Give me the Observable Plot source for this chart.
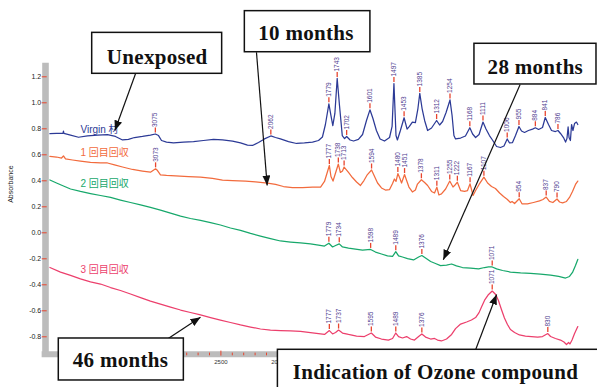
<!DOCTYPE html>
<html>
<head>
<meta charset="utf-8">
<script src="https://cdn.jsdelivr.net/npm/d3@7"></script>
<script src="https://cdn.jsdelivr.net/npm/@observablehq/plot@0.6"></script>
<style>
  body { margin: 0; background: #fff; }
  #chart svg { display: block; }
</style>
</head>
<body>
<div id="chart"></div>
<script>
// Infrared absorbance spectra: unexposed sheet and three recovered samples.
// Each point is [wavenumber (cm-1), absorbance].
const seriesNames = ["Virgin 材", "1 回目回収", "2 回目回収", "3 回目回収"];

const virgin = [
  [4000,0.762],[3942,0.764],[3885,0.765],[3881,0.782],[3877,0.765],[3819,0.752],[3749,0.735],
  [3670,0.745],[3582,0.752],[3495,0.756],[3425,0.741],[3363,0.714],[3311,0.718],[3258,0.733],
  [3188,0.741],[3118,0.752],[3075,0.760],[3047,0.748],[3021,0.710],[2977,0.698],[2916,0.691],
  [2828,0.698],[2740,0.702],[2653,0.710],[2565,0.718],[2486,0.714],[2398,0.706],[2328,0.691],
  [2267,0.675],[2223,0.672],[2170,0.695],[2118,0.722],[2062,0.745],[2021,0.733],[1989,0.722],
  [1954,0.702],[1919,0.687],[1885,0.691],[1850,0.698],[1824,0.710],[1807,0.737],[1794,0.833],
  [1779,0.992],[1770,0.902],[1762,0.825],[1753,0.918],[1743,1.187],[1733,0.979],[1721,0.748],
  [1711,0.725],[1702,0.741],[1687,0.714],[1672,0.706],[1651,0.718],[1633,0.756],[1616,0.864],
  [1601,0.946],[1588,0.879],[1573,0.787],[1557,0.722],[1538,0.706],[1516,0.733],[1505,0.818],
  [1497,1.148],[1488,0.748],[1482,0.714],[1469,0.787],[1453,0.885],[1440,0.798],[1430,0.818],
  [1417,0.852],[1404,0.848],[1393,0.956],[1385,1.072],[1375,0.956],[1364,0.864],[1351,0.787],
  [1334,0.806],[1312,0.864],[1299,0.829],[1286,0.856],[1271,0.925],[1254,1.022],[1245,0.902],
  [1237,0.748],[1230,0.722],[1208,0.729],[1187,0.745],[1168,0.808],[1156,0.760],[1143,0.733],
  [1128,0.756],[1111,0.852],[1098,0.798],[1083,0.748],[1070,0.714],[1052,0.664],[1035,0.656],
  [1020,0.668],[1006,0.722],[996,0.691],[983,0.694],[970,0.748],[955,0.818],[944,0.783],
  [931,0.772],[914,0.787],[896,0.798],[884,0.808],[870,0.795],[853,0.810],[841,0.887],
  [827,0.833],[814,0.787],[797,0.779],[786,0.787],[775,0.764],[762,0.733],[753,0.698],
  [747,0.725],[742,0.814],[738,0.733],[732,0.710],[727,0.833],[721,0.787],[714,0.841],
  [706,0.852],[700,0.833]
];

const recovery1 = [
  [4000,0.587],[3942,0.583],[3898,0.575],[3881,0.591],[3863,0.568],[3802,0.560],[3732,0.552],
  [3644,0.541],[3556,0.537],[3495,0.537],[3433,0.522],[3363,0.506],[3275,0.487],[3188,0.475],
  [3118,0.466],[3073,0.492],[3056,0.479],[3030,0.445],[2977,0.441],[2898,0.437],[2784,0.433],
  [2679,0.429],[2574,0.418],[2486,0.406],[2398,0.402],[2284,0.398],[2196,0.391],[2091,0.382],
  [2021,0.372],[1976,0.356],[1937,0.348],[1893,0.348],[1850,0.351],[1815,0.352],[1798,0.395],
  [1777,0.518],[1770,0.433],[1761,0.398],[1738,0.529],[1729,0.464],[1720,0.475],[1713,0.506],
  [1694,0.464],[1677,0.425],[1659,0.391],[1642,0.364],[1627,0.402],[1612,0.448],[1594,0.483],
  [1581,0.433],[1568,0.383],[1551,0.345],[1534,0.329],[1516,0.333],[1503,0.379],[1495,0.414],
  [1488,0.395],[1480,0.456],[1471,0.418],[1464,0.383],[1451,0.448],[1442,0.402],[1432,0.352],
  [1417,0.314],[1404,0.329],[1395,0.375],[1378,0.408],[1364,0.387],[1351,0.364],[1334,0.318],
  [1321,0.306],[1311,0.351],[1302,0.291],[1291,0.299],[1273,0.337],[1255,0.398],[1241,0.352],
  [1232,0.368],[1222,0.389],[1208,0.325],[1191,0.318],[1178,0.325],[1167,0.377],[1154,0.287],
  [1143,0.325],[1128,0.372],[1107,0.428],[1091,0.383],[1074,0.356],[1057,0.341],[1039,0.306],
  [1022,0.279],[1005,0.256],[992,0.233],[985,0.241],[974,0.225],[954,0.262],[942,0.223],
  [918,0.222],[892,0.233],[866,0.245],[851,0.256],[837,0.275],[823,0.241],[808,0.233],
  [790,0.260],[779,0.237],[766,0.230],[749,0.241],[736,0.272],[723,0.318],[710,0.372],
  [700,0.398]
];

const recovery2 = [
  [4000,0.406],[3942,0.383],[3881,0.360],[3819,0.337],[3732,0.318],[3644,0.302],[3556,0.287],
  [3468,0.272],[3381,0.252],[3293,0.233],[3205,0.214],[3118,0.195],[3030,0.175],[2942,0.152],
  [2854,0.129],[2767,0.110],[2679,0.095],[2591,0.079],[2504,0.060],[2416,0.037],[2328,0.018],
  [2240,-0.005],[2153,-0.025],[2065,-0.044],[1989,-0.063],[1945,-0.071],[1902,-0.078],
  [1859,-0.086],[1824,-0.094],[1798,-0.102],[1779,-0.080],[1763,-0.109],[1750,-0.098],
  [1734,-0.085],[1720,-0.109],[1694,-0.117],[1664,-0.125],[1633,-0.133],[1598,-0.128],
  [1577,-0.148],[1551,-0.163],[1525,-0.178],[1503,-0.182],[1489,-0.145],[1477,-0.178],
  [1460,-0.186],[1438,-0.198],[1412,-0.209],[1390,-0.186],[1376,-0.175],[1360,-0.194],
  [1338,-0.221],[1317,-0.236],[1295,-0.252],[1269,-0.248],[1247,-0.240],[1226,-0.255],
  [1200,-0.267],[1165,-0.271],[1130,-0.278],[1104,-0.267],[1087,-0.263],[1071,-0.263],
  [1052,-0.278],[1026,-0.290],[992,-0.302],[948,-0.309],[905,-0.313],[862,-0.317],
  [818,-0.325],[783,-0.336],[753,-0.348],[736,-0.336],[723,-0.305],[710,-0.252],[700,-0.205]
];

const recovery3 = [
  [4000,-0.267],[3907,-0.302],[3819,-0.328],[3732,-0.355],[3644,-0.378],[3556,-0.394],
  [3468,-0.421],[3381,-0.444],[3293,-0.471],[3205,-0.498],[3118,-0.525],[3030,-0.548],
  [2942,-0.571],[2854,-0.594],[2767,-0.613],[2679,-0.632],[2591,-0.652],[2504,-0.671],
  [2416,-0.690],[2328,-0.709],[2240,-0.725],[2153,-0.740],[2065,-0.748],[1989,-0.752],
  [1945,-0.755],[1902,-0.759],[1859,-0.767],[1824,-0.775],[1798,-0.782],[1777,-0.752],
  [1763,-0.778],[1750,-0.767],[1737,-0.748],[1720,-0.771],[1694,-0.782],[1659,-0.794],
  [1625,-0.798],[1595,-0.771],[1577,-0.802],[1551,-0.817],[1521,-0.825],[1503,-0.813],
  [1489,-0.771],[1477,-0.798],[1460,-0.809],[1442,-0.798],[1425,-0.817],[1408,-0.825],
  [1390,-0.798],[1376,-0.778],[1360,-0.802],[1338,-0.817],[1321,-0.813],[1308,-0.825],
  [1291,-0.832],[1269,-0.817],[1247,-0.782],[1230,-0.737],[1208,-0.702],[1182,-0.686],
  [1161,-0.671],[1143,-0.652],[1128,-0.614],[1117,-0.568],[1104,-0.518],[1089,-0.479],
  [1071,-0.448],[1056,-0.475],[1044,-0.521],[1031,-0.590],[1018,-0.655],[1005,-0.705],
  [992,-0.744],[974,-0.767],[953,-0.786],[927,-0.794],[901,-0.798],[874,-0.802],[853,-0.798],
  [830,-0.775],[818,-0.798],[797,-0.813],[775,-0.825],[760,-0.840],[749,-0.859],[740,-0.844],
  [734,-0.855],[725,-0.825],[714,-0.775],[700,-0.721]
];

// Labelled band positions (cm-1) for each spectrum
const virginPeaks = [3075, 2062, 1779, 1743, 1702, 1601, 1497, 1453, 1385, 1312, 1254, 1168, 1111, 1006, 955, 884, 841, 786];
const recovery1Peaks = [3073, 1777, 1738, 1713, 1594, 1480, 1451, 1378, 1311, 1255, 1222, 1167, 1107, 954, 837, 790];
const recovery2Peaks = [1779, 1734, 1598, 1489, 1376, 1071];
const recovery3Peaks = [1777, 1737, 1595, 1489, 1376, 1071, 830];

const yTicks = [-0.8, -0.6, -0.4, -0.2, 0.0, 0.2, 0.4, 0.6, 0.8, 1.0, 1.2];
const xMajorTicks = [3500, 3000, 2500, 2000, 1500, 1000];
const xTickLabels = [2500, 2000];
const xMinorTicks = d3.range(2100, 4000, 100).filter(v => v % 500 !== 0);

const calloutTexts = ["Unexposed", "10 months", "28 months", "46 months", "Indication of Ozone compound"];

// ---- styling and layout ----
const colors = ["#2c3a96", "#f26b3d", "#17a86b", "#ec3f6c"];
const tickRed = "#e8452e";
const peakInk = "#4f3c8f";
const barGray = "#bcbcbc";

const xDomain = [4000, 2000, 700];     // split axis: compressed above 2000 cm-1
const xRange = [49.4, 277.4, 577.3];
const yDomain = [-0.91, 1.31];
const yRange = [350.6, 62];
const pxPerAbs = (yRange[0] - yRange[1]) / (yDomain[1] - yDomain[0]);

const series = [
  {name: seriesNames[0], data: virgin, peaks: virginPeaks, color: colors[0], labelAt: [3732, 0.791]},
  {name: seriesNames[1], data: recovery1, peaks: recovery1Peaks, color: colors[1], labelAt: [3732, 0.614]},
  {name: seriesNames[2], data: recovery2, peaks: recovery2Peaks, color: colors[2], labelAt: [3732, 0.374]},
  {name: seriesNames[3], data: recovery3, peaks: recovery3Peaks, color: colors[3], labelAt: [3732, -0.288]}
];

// Callout boxes and arrows, placed in data units (wavenumber, absorbance)
const callouts = [
  {text: calloutTexts[0], box: [3629, 2489, 1.538, 1.223], at: [3059, 1.352], from: [3249, 1.223], to: [3430, 0.787]},
  {text: calloutTexts[1], box: [2290, 1599, 1.705, 1.389], at: [1878, 1.536], from: [2188, 1.389], to: [2094, 0.364]},
  {text: calloutTexts[2], box: [1148, 619, 1.454, 1.141], at: [884, 1.275], from: [950, 1.141], to: [1283, -0.208]},
  {text: calloutTexts[3], box: [3922, 2825, -0.813, -1.136], at: [3381, -0.982], from: [2962, -0.813], to: [2679, -0.649]},
  {text: calloutTexts[4], box: [2000, 590, -0.900, -1.26], at: [1317, -1.072], from: [1143, -0.900], to: [1052, -0.475]}
];

const peakRows = series.flatMap(s => s.peaks.map(w => {
  const p = s.data.find(d => d[0] === w);
  return {w, a: p[1]};
}));
const peakTickLen = 5 / pxPerAbs;

const marks = [
  // axis bars
  Plot.ruleX([xDomain[0]], {y1: 1.305, y2: -0.957, stroke: barGray, strokeWidth: 6.6, dx: -4.4}),
  Plot.ruleY([yDomain[0]], {x1: 4068, x2: 700, stroke: barGray, strokeWidth: 6, dy: 3.05}),
  Plot.axisY({ticks: yTicks, tickSize: 5, dx: -2.7, tickPadding: 1, stroke: tickRed, fill: "#222",
    fontSize: 7, tickFormat: d => d.toFixed(1), label: null}),
  Plot.axisX({ticks: xMinorTicks, tickSize: 2.7, dy: 2, stroke: tickRed, fill: "none", label: null}),
  Plot.axisX({ticks: xMajorTicks, tickSize: 5, stroke: tickRed, fill: "none", label: null}),
  Plot.axisX({ticks: xTickLabels, tickSize: 5, tickPadding: 3.7, stroke: "none", fill: "#333",
    fontSize: 6, tickFormat: d => String(d), label: null}),
  Plot.text(["Absorbance"], {frameAnchor: "left", rotate: -90, dx: -38.7, dy: -4, fontSize: 7, fill: "#222"}),
  // spectra
  ...series.map(s => Plot.line(s.data, {x: d => d[0], y: d => d[1], stroke: s.color, strokeWidth: 1.25})),
  ...series.map(s => Plot.text([s.name], {x: () => s.labelAt[0], y: () => s.labelAt[1], textAnchor: "start",
    fill: s.color, fontSize: 10, fontFamily: "'Liberation Sans','Noto Sans CJK JP',sans-serif"})),
  // band labels
  Plot.ruleX(peakRows, {x: "w", y1: "a", y2: d => d.a + peakTickLen, dy: -1, stroke: tickRed, strokeWidth: 1.3}),
  Plot.text(peakRows, {x: "w", y: "a", text: d => String(d.w), rotate: -90, textAnchor: "start",
    dy: -7, fontSize: 6.5, fill: peakInk}),
  // callouts
  Plot.link(callouts, {x1: d => d.from[0], y1: d => d.from[1], x2: d => d.to[0], y2: d => d.to[1],
    stroke: "#111", strokeWidth: 1.2}),
  Plot.rect(callouts, {x1: d => d.box[0], x2: d => d.box[1], y1: d => d.box[2], y2: d => d.box[3],
    fill: "white", stroke: "#111", strokeWidth: 1.5}),
  Plot.text(callouts, {x: d => d.at[0], y: d => d.at[1], text: "text", fontSize: 21, fontWeight: "bold",
    fontFamily: "'Liberation Serif', serif", fill: "#111"})
];

const chart = Plot.plot({
  width: 597,
  height: 387,
  marginLeft: xRange[0],
  marginRight: 597 - xRange[2],
  marginTop: yRange[1],
  marginBottom: 387 - yRange[0],
  style: {background: "white", fontFamily: "'Liberation Sans', sans-serif"},
  x: {type: "linear", domain: xDomain, range: xRange, axis: null},
  y: {type: "linear", domain: yDomain, range: yRange, axis: null},
  marks
});

// Filled arrowheads on the callout arrows
const ns = "http://www.w3.org/2000/svg";
const defs = document.createElementNS(ns, "defs");
const marker = document.createElementNS(ns, "marker");
marker.setAttribute("id", "callout-head");
marker.setAttribute("viewBox", "0 0 10 8");
marker.setAttribute("refX", "10");
marker.setAttribute("refY", "4");
marker.setAttribute("markerWidth", "10");
marker.setAttribute("markerHeight", "8");
marker.setAttribute("markerUnits", "userSpaceOnUse");
marker.setAttribute("orient", "auto");
const head = document.createElementNS(ns, "path");
head.setAttribute("d", "M0,0L10,4L0,8Z");
head.setAttribute("fill", "#111");
marker.appendChild(head);
defs.appendChild(marker);
chart.insertBefore(defs, chart.firstChild);
chart.querySelectorAll('g[aria-label="link"] path').forEach(p => p.setAttribute("marker-end", "url(#callout-head)"));
chart.querySelectorAll('g[font-size="21"] text').forEach(t => t.setAttribute("letter-spacing", "0.3"));

document.getElementById("chart").appendChild(chart);
</script>
</body>
</html>
